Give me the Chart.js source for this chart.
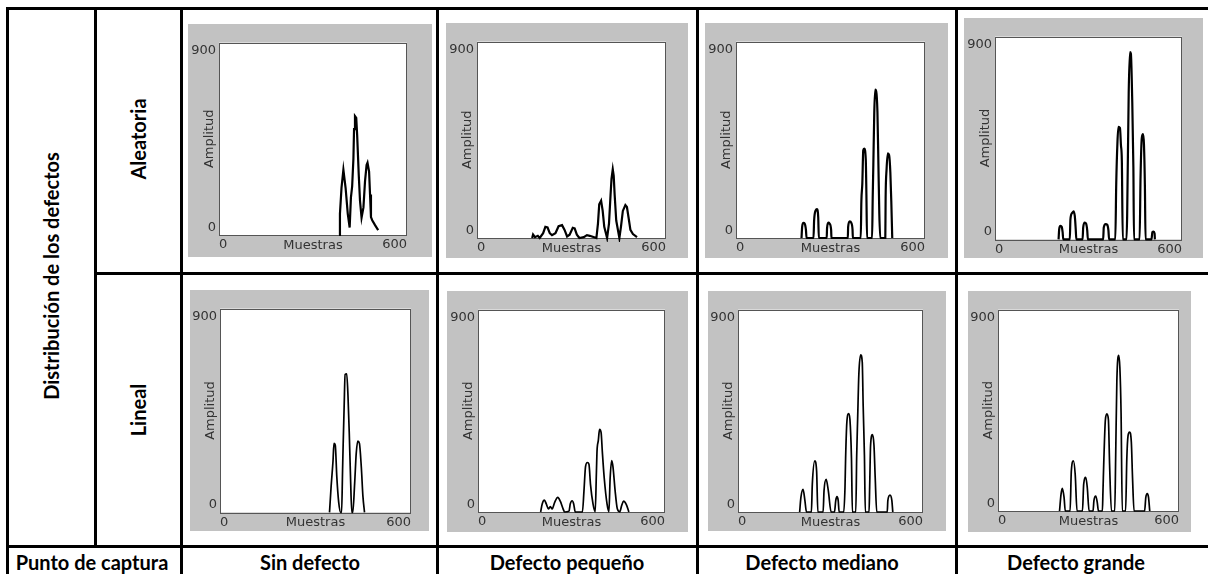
<!DOCTYPE html>
<html lang="es">
<head>
<meta charset="utf-8">
<script src="https://cdn.jsdelivr.net/npm/chart.js@4.4.1/dist/chart.umd.min.js"></script>
<style>
  html, body { margin: 0; padding: 0; background: #fff; }
  #sheet { position: relative; width: 1208px; height: 574px; overflow: hidden; font-family: Lato, "Open Sans", sans-serif; }
  .hl, .vl { position: absolute; background: #000; }
  .hl { height: 3px; }
  .vl { width: 3px; }
  .cap { position: absolute; font-weight: 700; font-size: 20px; line-height: 24px; color: #000; white-space: nowrap; transform: translate(-50%, -50%); }
  .cap.rot { transform: translate(-50%, -50%) rotate(-90deg); }
  .panel { position: absolute; background: #c2c2c2; }
</style>
</head>
<body>
<div id="sheet">
  <div class="hl" style="left:6px; top:7px; width:1210px"></div>
  <div class="hl" style="left:94px; top:272px; width:1120px"></div>
  <div class="hl" style="left:6px; top:545px; width:1210px"></div>
  <div class="vl" style="left:6px; top:7px; height:570px"></div>
  <div class="vl" style="left:94px; top:7px; height:541px"></div>
  <div class="vl" style="left:180px; top:7px; height:570px"></div>
  <div class="vl" style="left:436px; top:7px; height:570px"></div>
  <div class="vl" style="left:696px; top:7px; height:570px"></div>
  <div class="vl" style="left:955px; top:7px; height:570px"></div>

  <div class="cap rot" style="left:51px; top:276px">Distribución de los defectos</div>
  <div class="cap rot" style="left:138px; top:139px">Aleatoria</div>
  <div class="cap rot" style="left:138px; top:410px">Lineal</div>
  <div class="cap" style="left:92px; top:562px">Punto de captura</div>
  <div class="cap" style="left:310px; top:562px">Sin defecto</div>
  <div class="cap" style="left:567px; top:562px">Defecto pequeño</div>
  <div class="cap" style="left:822px; top:562px">Defecto mediano</div>
  <div class="cap" style="left:1076px; top:562px">Defecto grande</div>
</div>

<script>
// axis ranges and labels (same for every panel)
const xRange = [0, 600];
const yRange = [0, 900];
const xTitle = 'Muestras';
const yTitle = 'Amplitud';

// [muestra, amplitud]
const sinDefectoAleatoria = [
  [383,0],[386,99],[391,221],[397,305],[404,221],[411,99],[417,35],[421,175],[425,228],
  [429,358],[431,495],[434,556],[438,548],[441,465],[446,282],[450,160],[455,81],[461,129],
  [466,251],[471,327],[474,338],[479,297],[482,190],[485,84],[489,69],[498,46],[508,23]
];
const pequenoAleatoria = [
  [175,0],[178,16],[184,4],[193,10],[199,0],[210,22],[217,51],[224,48],[231,22],[238,13],
  [249,22],[259,54],[270,59],[278,37],[286,7],[294,15],[304,47],[310,44],[317,15],[325,0],
  [339,4],[349,13],[358,10],[379,0],[384,66],[388,154],[394,171],[399,124],[404,51],[413,0],
  [419,66],[424,198],[427,271],[431,315],[434,285],[437,198],[442,80],[452,0],[457,51],
  [463,124],[471,151],[476,142],[481,95],[487,37],[495,18],[508,4]
];
const medianoAleatoria = [
  [208,0],[210,51],[214,69],[218,66],[222,37],[224,0],
  [246,0],[248,80],[253,127],[257,132],[261,95],[263,0],
  [288,0],[289,44],[293,70],[297,66],[302,37],[303,0],
  [355,0],[356,51],[361,76],[366,69],[370,37],[371,0],
  [396,0],[398,168],[401,249],[404,402],[407,410],[412,359],[414,198],[416,0],
  [432,0],[434,183],[436,337],[439,578],[442,680],[445,673],[449,578],[452,344],[455,110],[458,0],
  [474,0],[475,183],[478,315],[482,388],[486,380],[490,300],[493,168],[496,0]
];
const grandeAleatoria = [
  [204,0],[206,46],[210,60],[214,56],[217,32],[219,0],
  [240,0],[242,89],[248,118],[252,125],[256,104],[259,46],[261,0],
  [281,0],[283,53],[288,75],[292,71],[296,39],[298,0],
  [347,0],[349,53],[355,68],[360,65],[364,39],[366,0],
  [386,0],[389,248],[393,435],[396,500],[401,495],[404,420],[407,348],[410,0],
  [422,0],[424,104],[429,651],[433,831],[436,824],[440,636],[444,320],[446,0],
  [464,0],[467,276],[471,449],[475,467],[478,420],[481,233],[483,0],
  [502,0],[505,32],[509,35],[512,27],[513,0]
];
const sinDefectoLineal = [
  [344,0],[349,113],[355,227],[358,305],[362,298],[367,156],[373,43],[379,0],
  [382,0],[385,184],[387,305],[390,468],[393,609],[398,612],[402,517],[406,354],[410,156],[414,0],
  [417,0],[423,128],[428,262],[433,315],[438,305],[444,198],[449,71],[454,0]
];
const pequenoLineal = [
  [201,0],[206,36],[213,53],[219,36],[226,14],[232,24],[238,14],[246,43],[256,65],[264,48],
  [273,14],[278,0],[292,4],[296,36],[302,50],[307,36],[312,0],[335,0],[340,94],[345,202],
  [351,220],[356,212],[361,122],[369,36],[376,1],[380,180],[382,274],[386,317],[390,367],
  [395,353],[399,266],[405,151],[414,36],[420,1],[424,151],[429,229],[433,202],[440,94],
  [447,14],[455,1],[461,29],[467,48],[476,33],[484,0]
];
const medianoLineal = [
  [200,0],[204,65],[211,101],[217,51],[222,0],
  [238,0],[241,123],[249,227],[255,181],[259,0],
  [276,0],[279,94],[286,145],[293,94],[302,0],
  [313,0],[317,51],[321,68],[325,51],[328,0],
  [343,0],[347,109],[349,239],[353,398],[359,438],[363,412],[368,239],[371,0],
  [382,0],[385,253],[388,412],[392,615],[398,699],[403,666],[406,470],[410,253],[413,0],
  [425,0],[427,109],[430,297],[436,344],[441,297],[445,152],[450,0],
  [484,0],[486,51],[493,75],[499,51],[502,0]
];
const grandeLineal = [
  [204,0],[209,75],[213,101],[219,61],[223,0],
  [239,0],[243,177],[250,224],[256,162],[262,0],
  [280,0],[284,119],[291,150],[296,104],[302,0],
  [315,0],[318,46],[324,67],[329,39],[333,0],
  [346,0],[348,90],[351,234],[356,408],[361,434],[366,408],[370,205],[376,0],
  [387,0],[390,234],[394,582],[400,695],[404,640],[408,437],[412,0],
  [423,0],[427,234],[431,336],[436,353],[442,307],[446,148],[451,0],
  [486,0],[490,61],[495,78],[499,61],[503,0]
];

// panel placement: gray box [left, top, width, height], plot inset [left, right, top, bottom]
const panels = [
  { series: sinDefectoAleatoria, box: [188, 24, 244, 233], inset: [31, 25, 14, 22], smooth: false, lw: 2.2 },
  { series: pequenoAleatoria,    box: [446, 23, 242, 235], inset: [31, 22, 10, 20], smooth: false, lw: 2.2 },
  { series: medianoAleatoria,    box: [705, 23, 243, 235], inset: [31, 23, 10, 20], smooth: true,  lw: 2.2 },
  { series: grandeAleatoria,     box: [964, 18, 239, 240], inset: [31, 21, 14, 17], smooth: true,  lw: 2.2 },
  { series: sinDefectoLineal,    box: [190, 290, 239, 241], inset: [30, 18, 12, 18], smooth: true, lw: 1.7 },
  { series: pequenoLineal,       box: [447, 291, 241, 241], inset: [31, 23, 12, 20], smooth: true, lw: 1.7 },
  { series: medianoLineal,       box: [708, 291, 238, 240], inset: [30, 23, 13, 19], smooth: true, lw: 1.7 },
  { series: grandeLineal,        box: [968, 291, 223, 241], inset: [30, 12, 12, 21], smooth: true, lw: 1.7 }
];

Chart.defaults.font.family = "'DejaVu Sans', sans-serif";
Chart.defaults.font.size = 13;
Chart.defaults.color = '#333';

// white plot area with a thin dark frame, like the original captures
const plotFrame = {
  id: 'plotFrame',
  beforeDraw(chart) {
    const { ctx, chartArea: a } = chart;
    ctx.save();
    ctx.fillStyle = '#fff';
    ctx.fillRect(a.left, a.top, a.width, a.height);
    ctx.restore();
  },
  beforeDatasetsDraw(chart) {
    const { ctx, chartArea: a } = chart;
    ctx.save();
    ctx.strokeStyle = '#555';
    ctx.lineWidth = 1;
    ctx.strokeRect(Math.round(a.left) + 0.5, Math.round(a.top) + 0.5,
      Math.round(a.width) - 1, Math.round(a.height));
    ctx.restore();
  }
};

const Y_AXIS_W = 29;
const X_AXIS_H = 18;

const sheet = document.getElementById('sheet');

panels.forEach((p) => {
  const [bx, by, bw, bh] = p.box;
  const [il, ir, it, ib] = p.inset;

  const wrap = document.createElement('div');
  wrap.className = 'panel';
  wrap.style.left = bx + 'px';
  wrap.style.top = by + 'px';
  wrap.style.width = bw + 'px';
  wrap.style.height = bh + 'px';
  const canvas = document.createElement('canvas');
  wrap.appendChild(canvas);
  sheet.appendChild(wrap);

  new Chart(canvas, {
    type: 'line',
    data: {
      datasets: [{
        data: p.series.map(([x, y]) => ({ x, y })),
        borderColor: '#000',
        borderWidth: p.lw,
        pointRadius: 0,
        fill: false,
        tension: 0,
        cubicInterpolationMode: p.smooth ? 'monotone' : 'default',
        clip: 4,
      }]
    },
    options: {
      responsive: true,
      maintainAspectRatio: false,
      animation: false,
      events: [],
      layout: {
        padding: { left: il - Y_AXIS_W, right: ir, top: it, bottom: ib - X_AXIS_H }
      },
      scales: {
        x: {
          type: 'linear',
          min: xRange[0],
          max: xRange[1],
          afterFit: (s) => { s.height = X_AXIS_H; },
          grid: { display: false, drawTicks: false },
          border: { display: false },
          ticks: {
            stepSize: xRange[1] - xRange[0],
            align: 'inner',
            padding: 2,
            maxRotation: 0,
            autoSkip: false,
          },
          title: {
            display: true,
            text: xTitle,
            padding: { top: 0, bottom: 0 },
          },
        },
        y: {
          min: yRange[0],
          max: yRange[1],
          afterFit: (s) => { s.width = Y_AXIS_W; },
          grid: { display: false, drawTicks: false },
          border: { display: false },
          ticks: {
            stepSize: yRange[1] - yRange[0],
            padding: 3,
            autoSkip: false,
            // labels sit inside the axis range, as in the captures
            callback: (v) => v === yRange[0] ? [String(v), ''] : ['', String(v)],
          },
          title: {
            display: true,
            text: yTitle,
            padding: { top: 12, bottom: 0 },
          },
        },
      },
      plugins: {
        legend: { display: false },
        tooltip: { enabled: false },
      },
    },
    plugins: [plotFrame],
  });
});
</script>
</body>
</html>
